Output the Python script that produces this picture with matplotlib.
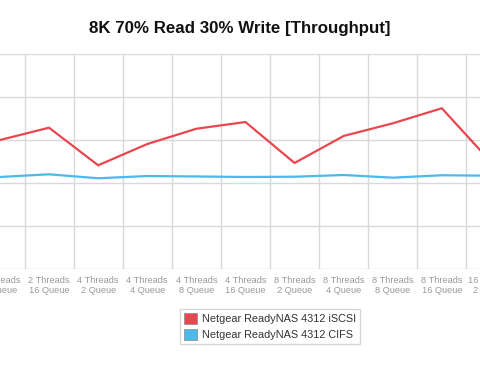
"""8K 70% Read 30% Write [Throughput] -- cropped line chart, two NAS series."""
import matplotlib
matplotlib.use("Agg")
import matplotlib.pyplot as plt
from matplotlib.patches import Patch
import numpy as np

categories = [
    "2 Threads\n8 Queue", "2 Threads\n16 Queue", "4 Threads\n2 Queue",
    "4 Threads\n4 Queue", "4 Threads\n8 Queue", "4 Threads\n16 Queue",
    "8 Threads\n2 Queue", "8 Threads\n4 Queue", "8 Threads\n8 Queue",
    "8 Threads\n16 Queue", "16 Threads\n2 Queue",
]
iscsi = [150.0, 164.3, 120.6, 145.3, 163.1, 170.9, 123.3, 154.7, 169.4, 186.9, 124.4]
cifs = [107.0, 110.1, 105.5, 108.1, 107.6, 107.0, 107.3, 109.3, 106.2, 109.0, 108.5]
series_names = ["Netgear ReadyNAS 4312 iSCSI", "Netgear ReadyNAS 4312 CIFS"]

RED = "#e9474f"
BLUE = "#4bb9ea"
GRID = "#d9d9d9"

plt.rcParams["font.family"] = ["Liberation Sans", "DejaVu Sans"]

fig = plt.figure(figsize=(4.8, 3.72), dpi=100)
# axes deliberately wider than the figure: the reference is a crop
ax = fig.add_axes([-24.6 / 480, 103 / 372, 540.1 / 480, 215 / 372])

x = np.arange(len(categories))
ax.plot(x, iscsi, color=RED, lw=1.6, solid_joinstyle="miter", zorder=3)
ax.plot(x, cifs, color=BLUE, lw=1.6, zorder=3)

ax.set_xlim(-0.5, len(categories) - 0.5)
ax.set_ylim(0, 250)
ax.set_yticks(np.arange(0, 251, 50))
ax.set_xticks(x)
ax.set_xticklabels(categories, fontsize=6.7, color="#999999", linespacing=1.15)
ax.set_xticks(np.arange(-0.5, len(categories), 1), minor=True)
ax.tick_params(axis="x", which="both", length=0, pad=5)
ax.tick_params(axis="y", length=0, labelleft=False)
ax.grid(True, axis="y", color=GRID, lw=1)
ax.grid(True, axis="x", which="minor", color=GRID, lw=1)
ax.grid(False, axis="x", which="major")
for s in ax.spines.values():
    s.set_visible(False)

fig.text(0.5, 1 - 29 / 372, "8K 70% Read 30% Write [Throughput]",
         ha="center", va="center", fontsize=12.2, fontweight="bold", color="#111111")

handles = [Patch(facecolor=RED, edgecolor="#888888", lw=0.5),
           Patch(facecolor=BLUE, edgecolor="#888888", lw=0.5)]
leg = fig.legend(handles, series_names, loc="center",
                 bbox_to_anchor=(270 / 480, 1 - 326.5 / 372),
                 fontsize=7.8, frameon=True, fancybox=False,
                 handlelength=1.2, handleheight=1.2, handletextpad=0.5,
                 labelspacing=0.45, borderpad=0.38, borderaxespad=0)
leg.get_frame().set_edgecolor("#cccccc")
leg.get_frame().set_linewidth(1)
for t in leg.get_texts():
    t.set_color("#333333")

fig.savefig("out.png", dpi=100)
